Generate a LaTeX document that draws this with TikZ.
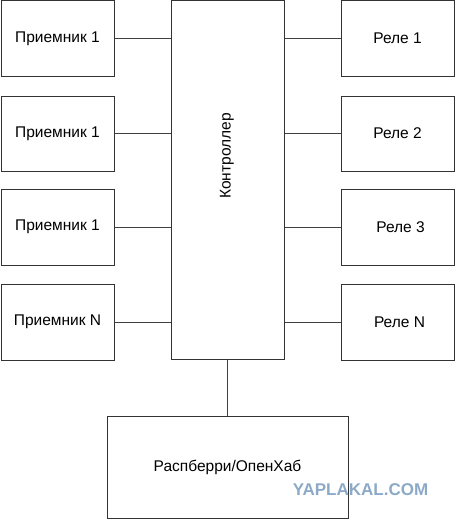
\documentclass[tikz,border=0pt]{standalone}
\usepackage{fontspec}
\setmainfont{Liberation Sans}
\definecolor{wmblue}{RGB}{140,170,200}
\begin{document}
\begin{tikzpicture}[x=1pt,y=-1pt,
  blk/.style={draw=black!80,line width=1pt,inner sep=0pt,font=\fontsize{15.5}{18}\selectfont},
  wire/.style={draw=black!75,line width=1pt}]
\useasboundingbox[fill=white] (0,0) rectangle (455,519);
% receivers
\node[blk,minimum width=113pt,minimum height=75pt] (p1) at (57.5,38.5) {Приемник 1};
\node[blk,minimum width=113pt,minimum height=75pt] (p2) at (57.5,133.5) {Приемник 1};
\node[blk,minimum width=113pt,minimum height=76pt] (p3) at (57.5,227) {Приемник 1};
\node[blk,minimum width=113pt,minimum height=76pt] (p4) at (57.5,322) {Приемник N};
% controller
\node[blk,minimum width=113pt,minimum height=358pt] (c) at (227.5,180) {};
\node[rotate=90,font=\fontsize{15.5}{18}\selectfont] (ct) at (227,156) {Контроллер};
% relays
\node[blk,minimum width=113pt,minimum height=75pt] (r1) at (397.5,38.5) {Реле 1};
\node[blk,minimum width=113pt,minimum height=75pt] (r2) at (397.5,133.5) {Реле 2};
\node[blk,minimum width=113pt,minimum height=76pt] (r3) at (397.5,227) {\hspace*{6pt}Реле 3};
\node[blk,minimum width=113pt,minimum height=76pt] (r4) at (397.5,322) {\hspace*{4pt}Реле N};
% hub
\node[blk,minimum width=241pt,minimum height=102pt] (h) at (227.5,467) {Распберри/ОпенХаб};
% connectors
\foreach \n in {p1,p2,p3,p4} \draw[wire] (\n.east) -- (\n.east -| c.west);
\foreach \n in {r1,r2,r3,r4} \draw[wire] (\n.west) -- (\n.west -| c.east);
\draw[wire] (c.south) -- (h.north);
% watermark
\node[font=\bfseries\fontsize{17}{18}\selectfont,text=wmblue,inner sep=0pt] (wm) at (360.5,489.5) {YAPLAKAL.COM};
\end{tikzpicture}
\end{document}
